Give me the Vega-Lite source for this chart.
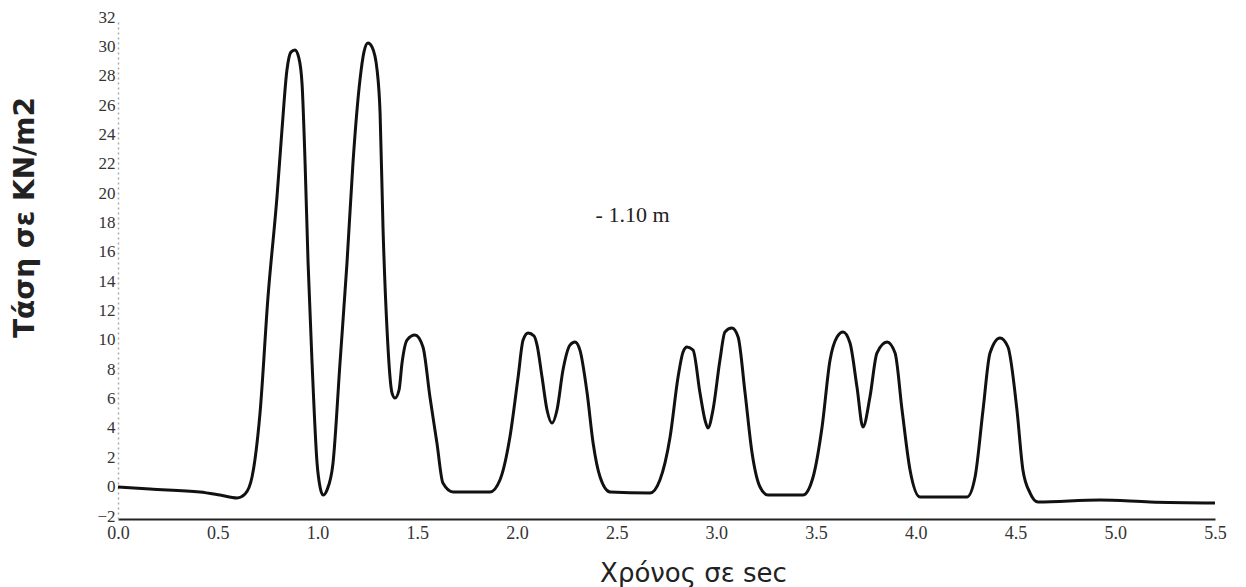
{
  "$schema": "https://vega.github.io/schema/vega-lite/v6.json",
  "autosize": {"type": "none"},
  "width": 1097,
  "height": 499,
  "padding": {"left": 118, "top": 20, "right": 31, "bottom": 68},
  "background": "white",
  "config": {"view": {"stroke": null}},
  "datasets": {
    "curve": [
      {"t": 0.0, "v": 0.18}, {"t": 0.16, "v": 0.04}, {"t": 0.411, "v": -0.16}, {"t": 0.511, "v": -0.37},
      {"t": 0.597, "v": -0.57}, {"t": 0.637, "v": -0.3}, {"t": 0.672, "v": 0.86}, {"t": 0.712, "v": 5.22},
      {"t": 0.752, "v": 13.12}, {"t": 0.797, "v": 19.93}, {"t": 0.822, "v": 24.5}, {"t": 0.847, "v": 28.59},
      {"t": 0.867, "v": 29.81}, {"t": 0.887, "v": 29.95}, {"t": 0.907, "v": 29.4}, {"t": 0.923, "v": 27.6},
      {"t": 0.938, "v": 22.25}, {"t": 0.953, "v": 15.44}, {"t": 0.973, "v": 8.63}, {"t": 0.998, "v": 1.81},
      {"t": 1.013, "v": 0.18}, {"t": 1.028, "v": -0.37}, {"t": 1.048, "v": -0.02}, {"t": 1.078, "v": 1.81},
      {"t": 1.113, "v": 8.63}, {"t": 1.148, "v": 15.44}, {"t": 1.178, "v": 22.25}, {"t": 1.213, "v": 27.9},
      {"t": 1.233, "v": 29.81}, {"t": 1.253, "v": 30.43}, {"t": 1.274, "v": 30.15}, {"t": 1.299, "v": 28.59},
      {"t": 1.314, "v": 25.66}, {"t": 1.329, "v": 17.69}, {"t": 1.349, "v": 10.87}, {"t": 1.374, "v": 6.58},
      {"t": 1.389, "v": 6.24}, {"t": 1.409, "v": 6.79}, {"t": 1.424, "v": 8.63}, {"t": 1.449, "v": 10.19},
      {"t": 1.489, "v": 10.53}, {"t": 1.529, "v": 9.72}, {"t": 1.564, "v": 6.31}, {"t": 1.599, "v": 3.18},
      {"t": 1.629, "v": 0.45}, {"t": 1.68, "v": -0.16}, {"t": 1.865, "v": -0.16}, {"t": 1.915, "v": 0.66},
      {"t": 1.965, "v": 3.59}, {"t": 2.006, "v": 7.67}, {"t": 2.031, "v": 10.19}, {"t": 2.056, "v": 10.67},
      {"t": 2.086, "v": 10.47}, {"t": 2.101, "v": 9.85}, {"t": 2.126, "v": 7.67}, {"t": 2.151, "v": 5.43},
      {"t": 2.176, "v": 4.54}, {"t": 2.201, "v": 5.43}, {"t": 2.231, "v": 8.15}, {"t": 2.266, "v": 9.85},
      {"t": 2.291, "v": 10.06}, {"t": 2.316, "v": 9.51}, {"t": 2.352, "v": 6.58}, {"t": 2.382, "v": 3.18},
      {"t": 2.417, "v": 0.86}, {"t": 2.467, "v": -0.16}, {"t": 2.667, "v": -0.23}, {"t": 2.717, "v": 0.66},
      {"t": 2.768, "v": 3.59}, {"t": 2.808, "v": 7.67}, {"t": 2.833, "v": 9.38}, {"t": 2.853, "v": 9.72},
      {"t": 2.883, "v": 9.51}, {"t": 2.918, "v": 6.58}, {"t": 2.943, "v": 4.74}, {"t": 2.958, "v": 4.2},
      {"t": 2.983, "v": 5.43}, {"t": 3.018, "v": 8.83}, {"t": 3.043, "v": 10.74}, {"t": 3.078, "v": 11.01},
      {"t": 3.109, "v": 10.4}, {"t": 3.144, "v": 6.58}, {"t": 3.179, "v": 2.5}, {"t": 3.219, "v": 0.18},
      {"t": 3.259, "v": -0.37}, {"t": 3.434, "v": -0.37}, {"t": 3.485, "v": 0.86}, {"t": 3.53, "v": 4.27},
      {"t": 3.57, "v": 8.83}, {"t": 3.605, "v": 10.4}, {"t": 3.635, "v": 10.74}, {"t": 3.67, "v": 9.99},
      {"t": 3.705, "v": 6.99}, {"t": 3.735, "v": 4.27}, {"t": 3.77, "v": 6.31}, {"t": 3.805, "v": 9.31},
      {"t": 3.856, "v": 10.06}, {"t": 3.896, "v": 9.31}, {"t": 3.931, "v": 5.43}, {"t": 3.971, "v": 1.34},
      {"t": 4.021, "v": -0.5}, {"t": 4.257, "v": -0.5}, {"t": 4.297, "v": 0.86}, {"t": 4.337, "v": 5.43},
      {"t": 4.372, "v": 9.31}, {"t": 4.422, "v": 10.33}, {"t": 4.462, "v": 9.72}, {"t": 4.507, "v": 5.43},
      {"t": 4.537, "v": 1.34}, {"t": 4.573, "v": -0.23}, {"t": 4.613, "v": -0.84}, {"t": 4.923, "v": -0.71},
      {"t": 5.174, "v": -0.84}, {"t": 5.5, "v": -0.91}
    ],
    "note": [{"t": 2.58, "v": 18.7, "label": "- 1.10 m"}]
  },
  "encoding": {
    "x": {
      "field": "t", "type": "quantitative",
      "scale": {"domain": [0, 5.5], "nice": false, "zero": false},
      "axis": {
        "title": "Χρόνος σε sec",
        "values": [0, 0.5, 1, 1.5, 2, 2.5, 3, 3.5, 4, 4.5, 5, 5.5],
        "format": ".1f",
        "grid": false, "ticks": false,
        "domainColor": "#222222", "domainWidth": 2,
        "labelFont": "Liberation Serif", "labelFontSize": 18, "labelColor": "#333333",
        "labelPadding": 5, "labelFlush": false, "labelOverlap": false,
        "titleFont": "DejaVu Sans", "titleFontSize": 26, "titleFontWeight": "normal", "titleColor": "#222222",
        "titleX": 575, "titleY": 62, "titleBaseline": "alphabetic", "titleAnchor": "middle", "titleAlign": "center"
      }
    },
    "y": {
      "field": "v", "type": "quantitative",
      "scale": {"domain": [-2, 32], "nice": false, "zero": false},
      "axis": {
        "title": "Τάση σε KN/m2",
        "values": [-2, 0, 2, 4, 6, 8, 10, 12, 14, 16, 18, 20, 22, 24, 26, 28, 30, 32],
        "format": "d",
        "grid": false, "ticks": false,
        "domainColor": "#aaaaaa", "domainWidth": 1.5, "domainDash": [2, 3],
        "labelFont": "Liberation Serif", "labelFontSize": 17, "labelColor": "#333333",
        "labelPadding": 3, "labelFlush": false, "labelOverlap": false, "labelOffset": -3,
        "titleFont": "DejaVu Sans", "titleFontSize": 28, "titleFontWeight": "bold", "titleColor": "#222222",
        "titleAngle": -90, "titleX": -93, "titleY": 197, "titleAlign": "center", "titleBaseline": "middle"
      }
    }
  },
  "layer": [
    {
      "data": {"name": "curve"},
      "mark": {"type": "line", "color": "#111111", "strokeWidth": 3, "interpolate": "monotone"}
    },
    {
      "data": {"name": "note"},
      "mark": {"type": "text", "font": "Liberation Serif", "fontSize": 22, "color": "#222222", "align": "center", "baseline": "middle"},
      "encoding": {
        "text": {"field": "label"}
      }
    }
  ]
}
